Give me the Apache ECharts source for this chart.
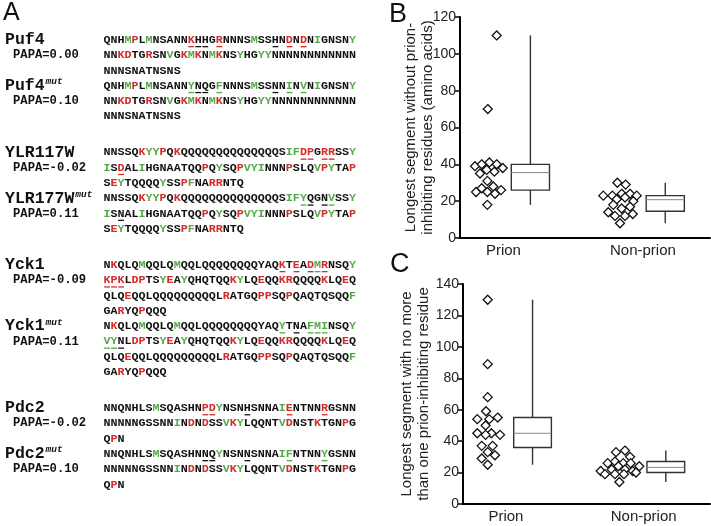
<!DOCTYPE html>
<html>
<head>
<meta charset="utf-8">
<script src="https://cdn.jsdelivr.net/npm/echarts@6/dist/echarts.min.js"></script>
<style>
  html, body { margin: 0; padding: 0; background: #fff; }
  #chart { width: 711px; height: 526px; }
</style>
</head>
<body>
<div id="chart"></div>
<script>
// ---- panel A data ----
const proteinNames = ['Puf4', 'Puf4', 'YLR117W', 'YLR177W', 'Yck1', 'Yck1', 'Pdc2', 'Pdc2']
const isMutant = [false, true, false, true, false, true, false, true]
const papaScores = ['0.00', '0.10', '-0.02', '0.11', '-0.09', '0.11', '-0.02', '0.10']
const sequenceLines = [
  ['QNHMPLMNSANNKHHGRNNNSMSSHNDNDNIGNSNY', 'NNKDTGRSNVGKMKNMKNSYHGYYNNNNNNNNNNNN', 'NNNSNATNSNS'],
  ['QNHMPLMNSANNYNQGFNNNSMSSNNINVNIGNSNY', 'NNKDTGRSNVGKMKNMKNSYHGYYNNNNNNNNNNNN', 'NNNSNATNSNS'],
  ['NNSSQKYYPQKQQQQQQQQQQQQQQSIFDPGRRSSY', 'ISDALIHGNAATQQPQYSQPVYINNNPSLQVPYTAP', 'SEYTQQQQYSSPFNARRNTQ'],
  ['NNSSQKYYPQKQQQQQQQQQQQQQQSIFYQGNVSSY', 'ISNALIHGNAATQQPQYSQPVYINNNPSLQVPYTAP', 'SEYTQQQQYSSPFNARRNTQ'],
  ['NKQLQMQQLQMQQLQQQQQQQQYAQKTEADMRNSQY', 'KPKLDPTSYEAYQHQTQQKYLQEQQKRQQQQKLQEQ', 'QLQEQQLQQQQQQQQQLRATGQPPSQPQAQTQSQQF', 'GARYQPQQQ'],
  ['NKQLQMQQLQMQQLQQQQQQQQYAQYTNAFMINSQY', 'VYNLDPTSYEAYQHQTQQKYLQEQQKRQQQQKLQEQ', 'QLQEQQLQQQQQQQQQLRATGQPPSQPQAQTQSQQF', 'GARYQPQQQ'],
  ['NNQNHLSMSQASHNPDYNSNHSNNAIENTNNRGSNN', 'NNNNNGSSNNINDNDSSVKYLQQNTVDNSTKTGNPG', 'QPN'],
  ['NNQNHLSMSQASHNNQYNSNNSNNAIFNTNNYGSNN', 'NNNNNGSSNNINDNDSSVKYLQQNTVDNSTKTGNPG', 'QPN']
]
// underlined residue positions, per block and line
const underlined = [
  [[12, 13, 14, 16, 24, 26, 28], [], []],
  [[12, 13, 14, 16, 24, 26, 28], [], []],
  [[28, 29, 31, 32], [2], []],
  [[28, 29, 31, 32], [2], []],
  [[25, 27, 29, 30, 31], [0, 1, 2], [], []],
  [[25, 27, 29, 30, 31], [0, 1, 2], [], []],
  [[14, 15, 20, 26, 31], [], []],
  [[14, 15, 20, 26, 31], [], []]
]
// residues printed black although they belong to a coloured class: [line, position]
const plainResidues = [[], [], [], [], [[0, 22], [3, 3]], [[0, 22], [3, 3]], [], []]
const inhibiting = 'PKDER'
const promoting = 'MIVFY'

// ---- panels B and C data ----
const groups = ['Prion', 'Non-prion']
const groupLabelAt = [0.93, 1.99]
const boxAt = [1.135, 2.16]

const bPrionAt = [0.879, 0.811, 0.714, 0.765, 0.823, 0.879, 0.925, 0.752, 0.803, 0.861, 0.808, 0.853, 0.722, 0.765, 0.808, 0.866, 0.912, 0.808]
const bPrionLen = [110, 70, 39, 40, 41, 40, 38, 35, 37, 36, 31, 28, 25, 27, 25, 24, 26, 18]
const bNonPrionAt = [1.796, 1.859, 1.689, 1.758, 1.829, 1.892, 1.943, 1.791, 1.854, 1.917, 1.765, 1.829, 1.892, 1.727, 1.778, 1.854, 1.913, 1.816]
const bNonPrionLen = [30, 29, 23, 23, 24, 24, 23, 21, 22, 20, 18, 16, 17, 14, 12, 12, 13, 8]
// min, q1, median, q3, max
const bBoxStats = [[18, 26, 35.5, 40, 110], [8, 14.5, 20.8, 23, 30]]

const cPrionAt = [0.790, 0.790, 0.790, 0.777, 0.710, 0.802, 0.867, 0.774, 0.710, 0.818, 0.885, 0.774, 0.744, 0.828, 0.790, 0.846, 0.744, 0.790]
const cPrionLen = [130, 89, 68, 59, 54, 54, 55, 50, 45, 45, 44, 44, 37, 37, 33, 31, 29, 25]
const cNonPrionAt = [1.846, 1.777, 1.885, 1.713, 1.769, 1.833, 1.890, 1.659, 1.692, 1.744, 1.795, 1.846, 1.905, 1.956, 1.931, 1.769, 1.838, 1.803]
const cNonPrionLen = [34, 33, 30, 26, 27, 26, 26, 21, 19, 22, 24, 22, 21, 24, 20, 19, 19, 14]
const cBoxStats = [[25, 36, 45, 55, 130], [14, 20, 23.3, 27, 34]]

// ---- styling ----
const MONO = 'Liberation Mono'
const SANS = 'Liberation Sans'
const RED = '#d42b2b'
const GREEN = '#55a84a'
const INK = '#111'
const seqFont = 11.7
const charW = seqFont * 0.6
const seqX = 103.5
const firstLineY = 40
const lineStep = 15.3
const pairGap = 20.7

function buildPanelA() {
  const els = []
  const tokenStyle = c => ({
    fill: c === 'r' ? RED : c === 'g' ? GREEN : INK,
    fontFamily: MONO, fontWeight: 'bold', fontSize: seqFont
  })
  let lineNo = 0
  proteinNames.forEach((name, b) => {
    const pair = Math.floor(b / 2)
    const yOf = li => firstLineY + (lineNo + li) * lineStep + pair * pairGap
    sequenceLines[b].forEach((seq, li) => {
      const y = yOf(li)
      const plain = plainResidues[b].filter(p => p[0] === li).map(p => p[1])
      const cls = seq.split('').map((ch, i) => {
        if (plain.includes(i)) return 'k'
        if (inhibiting.includes(ch)) return 'r'
        if (promoting.includes(ch)) return 'g'
        return 'k'
      })
      let text = ''
      let run = ''
      cls.forEach((c, i) => {
        run += seq[i]
        if (i === seq.length - 1 || cls[i + 1] !== c) {
          text += '{' + c + '|' + run + '}'
          run = ''
        }
      })
      els.push({
        type: 'text', x: seqX, y: y,
        style: {
          text: text, verticalAlign: 'middle',
          font: 'bold ' + seqFont + 'px ' + MONO,
          rich: { r: tokenStyle('r'), g: tokenStyle('g'), k: tokenStyle('k') }
        }
      })
      underlined[b][li].forEach(i => {
        const c = cls[i]
        els.push({
          type: 'rect',
          shape: { x: seqX + i * charW + 0.6, y: y + 6, width: charW - 1.2, height: 1.3 },
          style: { fill: c === 'r' ? RED : c === 'g' ? GREEN : INK }
        })
      })
    })
    els.push({
      type: 'text', x: 5, y: yOf(0),
      style: { text: name, verticalAlign: 'middle', font: 'bold 16.5px ' + MONO, fill: INK }
    })
    if (isMutant[b]) {
      els.push({
        type: 'text', x: 5 + name.length * 9.9 + 1, y: yOf(0) - 4,
        style: { text: 'mut', verticalAlign: 'middle', font: 'italic bold 9.5px ' + MONO, fill: INK }
      })
    }
    els.push({
      type: 'text', x: 13, y: yOf(1),
      style: { text: 'PAPA=' + papaScores[b], verticalAlign: 'middle', font: 'bold 12.2px ' + MONO, fill: INK }
    })
    lineNo += sequenceLines[b].length
  })
  els.push({ type: 'text', x: 3, y: 1, style: { text: 'A', font: '25px ' + SANS, fill: INK } })
  els.push({ type: 'text', x: 389, y: 1, style: { text: 'B', font: '27px ' + SANS, fill: INK } })
  els.push({ type: 'text', x: 390, y: 251, style: { text: 'C', font: '27px ' + SANS, fill: INK } })
  return els
}

function renderBox(params, api) {
  const x = api.value(0)
  const lo = api.coord([x, api.value(1)])
  const q1 = api.coord([x, api.value(2)])
  const med = api.coord([x, api.value(3)])
  const q3 = api.coord([x, api.value(4)])
  const hi = api.coord([x, api.value(5)])
  const half = api.size([0.29, 0])[0] / 2
  const line = { stroke: '#333', lineWidth: 1.4, fill: null }
  return {
    type: 'group',
    children: [
      { type: 'line', shape: { x1: lo[0], y1: lo[1], x2: q1[0], y2: q1[1] }, style: line },
      { type: 'line', shape: { x1: q3[0], y1: q3[1], x2: hi[0], y2: hi[1] }, style: line },
      { type: 'rect', shape: { x: q1[0] - half, y: q3[1], width: half * 2, height: q1[1] - q3[1] }, style: { stroke: '#333', lineWidth: 1.4, fill: '#fff' } },
      { type: 'line', shape: { x1: med[0] - half, y1: med[1], x2: med[0] + half, y2: med[1] }, style: { stroke: '#888', lineWidth: 1, fill: null } }
    ]
  }
}

function pairs(xs, ys) {
  return xs.map((x, i) => [x, ys[i]])
}

const xAxisBase = gridIndex => ({
  type: 'value', gridIndex: gridIndex, min: 0.6, max: 2.5,
  splitLine: { show: false },
  axisLine: { lineStyle: { color: '#000', width: 2 } },
  axisTick: { show: false },
  axisLabel: {
    customValues: groupLabelAt,
    formatter: v => groups[Math.abs(v - groupLabelAt[0]) < 0.01 ? 0 : 1],
    fontSize: 15, color: '#222', fontFamily: SANS, margin: 5
  }
})

const yAxisBase = (gridIndex, max, name, gap) => ({
  type: 'value', gridIndex: gridIndex, min: 0, max: max, interval: 20,
  name: name, nameLocation: 'middle', nameGap: gap, nameMoveOverlap: false,
  nameTextStyle: { fontSize: 15, color: '#222', fontFamily: SANS, lineHeight: 17 },
  splitLine: { show: false },
  axisLine: { show: true, lineStyle: { color: '#000', width: 2 } },
  axisTick: { length: 5, lineStyle: { color: '#000', width: 1.5 } },
  axisLabel: { fontSize: 14, color: '#222', fontFamily: SANS, margin: 4 }
})

const diamond = {
  type: 'scatter', symbol: 'diamond', symbolSize: 9,
  itemStyle: { color: '#fff', borderColor: '#111', borderWidth: 1.3, opacity: 1 }
}

const chart = echarts.init(document.getElementById('chart'))
chart.setOption({
  animation: false,
  textStyle: { fontFamily: SANS },
  grid: [
    { left: 460, top: 17, width: 250, height: 221 },
    { left: 463, top: 284, width: 247, height: 220 }
  ],
  xAxis: [xAxisBase(0), xAxisBase(1)],
  yAxis: [
    yAxisBase(0, 120, 'Longest segment without prion-\ninhibiting residues (amino acids)', 24),
    yAxisBase(1, 140, 'Longest segment with no more\nthan one prion-inhibiting residue', 31)
  ],
  graphic: { elements: buildPanelA() },
  series: [
    Object.assign({}, diamond, { xAxisIndex: 0, yAxisIndex: 0, data: pairs(bPrionAt, bPrionLen).concat(pairs(bNonPrionAt, bNonPrionLen)) }),
    { type: 'custom', xAxisIndex: 0, yAxisIndex: 0, renderItem: renderBox, encode: { x: 0, y: [1, 2, 3, 4, 5] },
      data: boxAt.map((x, i) => [x].concat(bBoxStats[i])) },
    Object.assign({}, diamond, { xAxisIndex: 1, yAxisIndex: 1, data: pairs(cPrionAt, cPrionLen).concat(pairs(cNonPrionAt, cNonPrionLen)) }),
    { type: 'custom', xAxisIndex: 1, yAxisIndex: 1, renderItem: renderBox, encode: { x: 0, y: [1, 2, 3, 4, 5] },
      data: boxAt.map((x, i) => [x].concat(cBoxStats[i])) }
  ]
})
</script>
</body>
</html>
